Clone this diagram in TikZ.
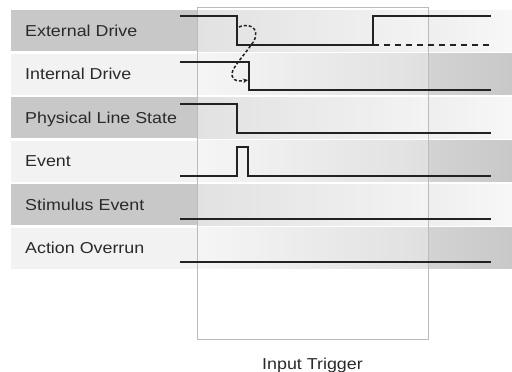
\documentclass[tikz,border=0pt]{standalone}
\usepackage{fontspec}
\setmainfont{Liberation Sans}[FakeStretch=1.13]
\usetikzlibrary{arrows.meta,positioning}
\definecolor{bandgray}{HTML}{C8C8C8}
\definecolor{bandlight}{HTML}{F2F2F2}
\definecolor{sigline}{HTML}{222222}
\definecolor{labeltext}{HTML}{2A2A2A}
\definecolor{boxgray}{HTML}{BBBBBB}

\begin{document}
\begin{tikzpicture}[x=1pt,y=-1pt,
  sig/.style={line width=1.4pt,sigline},
  lbl/.style={anchor=base west,inner sep=0pt,text=labeltext,font=\fontsize{15.8}{18}\selectfont}]
\useasboundingbox (0,0) rectangle (512,372);
% row bands, gray on the left for odd rows, on the right for even rows
\foreach \t in {10,97,184}{
  \fill[bandgray] (11,\t) rectangle (197,\t+41);
  \shade[left color=bandgray!75!white,right color=white!97!black] (197,\t) rectangle (512,\t+41);
}
\foreach \t in {53.5,140.5,227.5}{
  \fill[bandlight] (11,\t) rectangle (197,\t+41);
  \shade[left color=bandlight,middle color=bandgray!90!white,right color=bandgray] (197,\t) rectangle (512,\t+41);
}
% trigger window
\node[draw=boxgray,line width=0.8pt,fill=white,fill opacity=0.3,minimum width=231pt,minimum height=332pt,inner sep=0pt] (trigbox) at (312.5,173) {};
\node[lbl,anchor=base] (trigtxt) at ([yshift=-30pt]trigbox.south) {Input Trigger};
% labels
\node[lbl] (lblext) at (25,36) {External Drive};
\node[lbl] (lblint) at (25,79.5) {Internal Drive};
\node[lbl] (lblphys) at (25,123) {Physical Line State};
\node[lbl] (lblevt) at (25,166.5) {Event};
\node[lbl] (lblstim) at (25,210) {Stimulus Event};
\node[lbl] (lblover) at (25,253.5) {Action Overrun};
% signals
\draw[sig] (180,16) -- (237,16) -- (237,45) -- (373,45) -- (373,16) -- (491,16);
\draw[sig,dash pattern=on 6pt off 5pt] (373,45) -- (491,45);
\draw[sig] (180,62) -- (249,62) -- (249,90) -- (491,90);
\draw[sig] (180,104) -- (237,104) -- (237,133) -- (491,133);
\draw[sig] (180,176) -- (237,176) -- (237,147) -- (248,147) -- (248,176) -- (491,176);
\draw[sig] (180,219) -- (491,219);
\draw[sig] (180,262) -- (491,262);
% external drive pulls internal drive down
\coordinate (extfall) at (239,27);
\coordinate (intfall) at (248,80);
\draw[line width=1.5pt,sigline,dash pattern=on 3pt off 2pt,-{Stealth[length=5pt,width=4.5pt]}]
  (extfall) .. controls (253,21) and (262,33) .. (251,45)
  .. controls (245,54) and (238,61) .. (233,70)
  .. controls (229,80) and (237,82) .. (intfall);
\end{tikzpicture}
\end{document}
